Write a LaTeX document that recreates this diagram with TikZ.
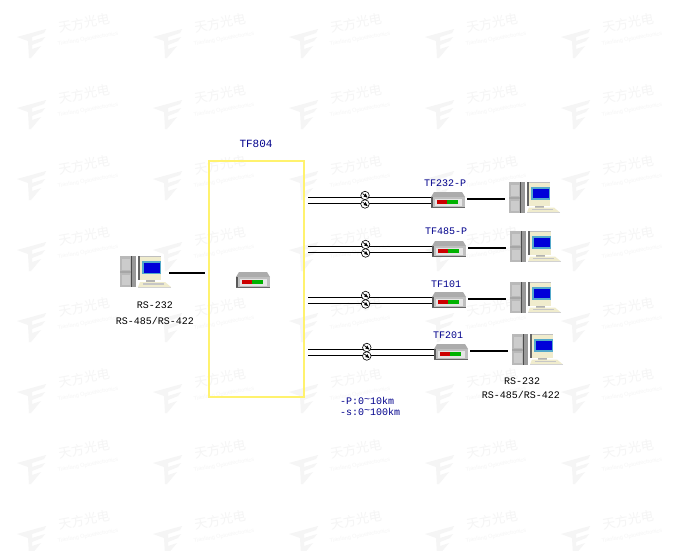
\documentclass[tikz,border=0pt]{standalone}
\usepackage{fontspec}
\setmainfont{Liberation Mono}
\newfontfamily\cjkmark{Noto Sans CJK SC}
\newfontfamily\latinmark{Liberation Sans}
\definecolor{labelblue}{RGB}{0,0,140}
\definecolor{boxyellow}{RGB}{255,242,110}
\definecolor{markgray}{RGB}{245,245,245}
\definecolor{beige}{RGB}{240,236,205}
\tikzset{
	cable/.style={draw=black,line width=1pt},
	tail/.style={draw=black,line width=2pt},
	coupler/.style={circle,draw=black,fill=white,line width=0.6pt,minimum size=8.5pt,inner sep=0pt},
	blabel/.style={text=labelblue,font=\fontsize{10}{10}\selectfont,inner sep=0pt},
	klabel/.style={text=black,font=\fontsize{10}{10}\selectfont,inner sep=0pt},
	pics/computer/.style={code={
		\fill [gray!80] (0,0) rectangle (16,31);
		\fill [gray!55] (0,0) rectangle (11,31);
		\fill [gray!40] (2,3) rectangle (10,14);
		\fill [gray!70] (0,15) rectangle (11,17);
		\fill [gray!40] (2,19) rectangle (10,29);
		\fill [black!70] (11,0) rectangle (12,31);
		\fill [beige] (18,0) rectangle (41,24);
		\fill [black!60] (18,0) rectangle (20,24);
		\fill [gray!50] (20,0) rectangle (41,1);
		\fill [cyan!60!gray] (22,5) rectangle (41,18);
		\fill [blue!85!black] (24,7) rectangle (40,16.5);
		\fill [gray!60] (26,24) rectangle (35,26);
		\fill [beige] (20,26) -- (45,26) -- (51,31) -- (18,31) -- cycle;
		\fill [gray!45] (23,27) rectangle (44,28.5);
		\fill [gray!35] (18,30.5) rectangle (51,31.5);
	}},
	pics/converter/.style={code={
		\fill [gray!65] (0,5) -- (3,0) -- (31,0) -- (34,5) -- cycle;
		\fill [gray!50] (0,5) rectangle (34,16);
		\fill [black!65] (0,5) rectangle (1.5,16);
		\fill [black!60] (0,15) rectangle (34,16);
		\fill [gray!20] (4,6.5) rectangle (31,13.5);
		\fill [red!80!black] (6,8) rectangle (16,12);
		\fill [green!70!black] (16,8) rectangle (27,12);
	}},
}
\newcommand{\couplermark}[1]{
	\begin{scope}[shift={(#1)}]
		\draw [black,line width=0.7pt] (-2.5,-2) -- (2,1.5);
		\fill [black] (0.5,-2) -- (2.5,2) -- (-1.5,1) -- cycle;
	\end{scope}
}
\begin{document}
\begin{tikzpicture}[x=1pt,y=-1pt]
	\useasboundingbox [fill=white] (0,0) rectangle (680,550);
	% watermark
	\foreach \r in {0,...,7} {
		\foreach \c in {0,...,4} {
			\begin{scope}[shift={({136*\c},{71*\r})}]
				\fill [markgray] (17,37) -- (46,29) -- (44,33) -- (32,37) -- (32,41) -- (45,37) -- (42,41) -- (32,45) -- (32,49) -- (41,46) -- (31,58) -- (29,58) -- (28,41) -- cycle;
				\node (mark\r\c) [rotate=10,text=markgray,font=\cjkmark\fontsize{13}{13}\selectfont,inner sep=0pt] at (84,23) {天方光电};
				\node (sub\r\c) [rotate=10,text=markgray,font=\latinmark\fontsize{5.5}{5.5}\selectfont,inner sep=0pt] at (88,39) {Tianfang Optoelectronics};
			\end{scope}
		}
	}
	% central unit
	\node (boxTF) [draw=boxyellow,line width=1.2pt,minimum width=95pt,minimum height=236pt,inner sep=0pt] at (256.5,279) {};
	\node (lblTF) [blabel,font=\fontsize{11}{11}\selectfont] at (256,143.5) {TF804};
	\pic at (236,272) {converter};
	\coordinate (hubW) at (205,273);
	% left computer
	\pic at (120,256) {computer};
	\coordinate (pcW) at (169,273);
	\draw [tail] (pcW) -- (hubW);
	\node (lblLa) [klabel] at (155,305) {RS-232};
	\node (lblLb) [klabel] at (155,321) {RS-485/RS-422};
	% four remote branches
	\foreach \nm/\lbl/\dx/\yy/\ly in {a/TF232-P/0/191/183,b/TF485-P/1/240/231,c/TF101/1/291/284,d/TF201/3/343/335} {
		\pic at ({431+\dx},{\yy+1}) {converter};
		\pic at ({509+\dx},{\yy-9.5}) {computer};
		\node (lbl\nm) [blabel] at ({445+\dx},\ly) {\lbl};
		\coordinate (sta\nm) at (308,{\yy+6});
		\coordinate (stb\nm) at (308,{\yy+12.5});
		\coordinate (mda\nm) at ({431+\dx},{\yy+6});
		\coordinate (mdb\nm) at ({431+\dx},{\yy+12.5});
		\coordinate (mdr\nm) at ({467+\dx},{\yy+7.5});
		\coordinate (pce\nm) at ({505+\dx},{\yy+7.5});
		\draw [cable] (sta\nm) -- (mda\nm);
		\draw [cable] (stb\nm) -- (mdb\nm);
		\node (cup\nm) [coupler] at ({365+\dx*0.6},{\yy+4.5}) {};
		\node (cdn\nm) [coupler] at ({365+\dx*0.6},{\yy+13}) {};
		\couplermark{cup\nm}
		\couplermark{cdn\nm}
		\draw [tail] (mdr\nm) -- (pce\nm);
	}
	\node (lblRa) [klabel] at (522,381.5) {RS-232};
	\node (lblRb) [klabel] at (521,394.5) {RS-485/RS-422};
	\node (lblP) [blabel,anchor=west] at (340,400.5) {-P:0\raisebox{2pt}{\textasciitilde}10km};
	\node (lblS) [blabel,anchor=west] at (340,412) {-s:0\raisebox{2pt}{\textasciitilde}100km};
\end{tikzpicture}
\end{document}
